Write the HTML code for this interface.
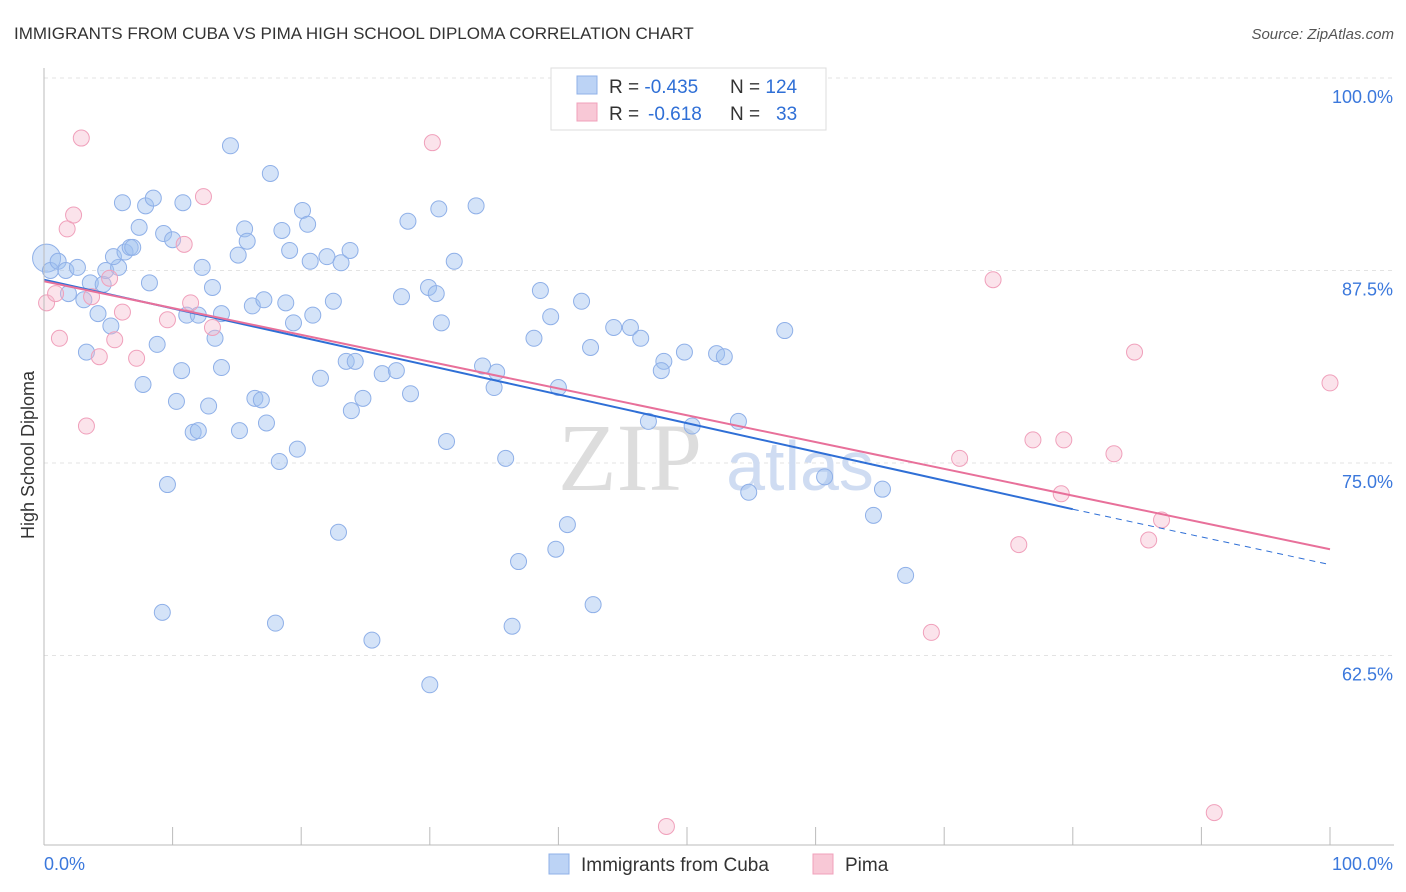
<!DOCTYPE html>
<html><head><meta charset="utf-8">
<style>
body{margin:0;background:#fff;font-family:"Liberation Sans",sans-serif;}
#wrap{position:relative;width:1406px;height:892px;overflow:hidden;}
</style></head>
<body>
<div id="wrap">
<svg id="svg" width="1406" height="892" xmlns="http://www.w3.org/2000/svg">
<text x="14" y="39" font-size="17" fill="#333">IMMIGRANTS FROM CUBA VS PIMA HIGH SCHOOL DIPLOMA CORRELATION CHART</text>
<text x="1394" y="39" font-size="15" fill="#555" font-style="italic" text-anchor="end">Source: ZipAtlas.com</text>
<text transform="translate(34,455) rotate(-90)" font-size="18" fill="#333" text-anchor="middle">High School Diploma</text>
<g id="grid"></g>
<g id="wm">
<text x="630" y="490" font-size="96" fill="#ddd" font-family="Liberation Serif" text-anchor="middle">ZIP</text>
<text x="800" y="490" font-size="70" fill="#cfdcf2" text-anchor="middle">atlas</text>
</g>
<g id="blue"></g>
<g id="pink"></g>
<g id="trend"></g>
<g id="axes"></g>
<g>
<rect x="551" y="68" width="275" height="62" fill="#fff" stroke="#ddd"/>
<rect x="577" y="76" width="20" height="18" fill="#bcd3f5" stroke="#8fb0e8"/>
<rect x="577" y="103" width="20" height="18" fill="#f8c8d6" stroke="#f0a0bb"/>
<text x="609" y="93" font-size="19" fill="#333">R = <tspan fill="#2f6fd6">-0.435</tspan><tspan x="730">N = </tspan><tspan fill="#2f6fd6">124</tspan></text>
<text x="609" y="120" font-size="19" fill="#333">R = <tspan fill="#2f6fd6" x="648">-0.618</tspan><tspan x="730">N = </tspan><tspan fill="#2f6fd6" x="776">33</tspan></text>
</g>
<g>
<rect x="549" y="854" width="20" height="20" fill="#bcd3f5" stroke="#8fb0e8"/>
<text x="581" y="871" font-size="19" fill="#333">Immigrants from Cuba</text>
<rect x="813" y="854" width="20" height="20" fill="#f8c8d6" stroke="#f0a0bb"/>
<text x="845" y="871" font-size="19" fill="#333">Pima</text>
</g>
</svg>
</div>
<script>
const blueX=[0.2,0.5,1.1,1.7,2.6,1.9,3.6,4.6,4.8,5.8,5.4,6.3,6.7,6.9,7.4,6.1,7.9,8.5,10.8,9.3,10.0,8.2,3.1,4.2,5.2,3.3,8.8,7.7,10.7,10.3,11.1,12.0,12.3,13.1,13.3,13.8,13.8,12.8,11.6,12.0,9.6,14.5,15.1,15.6,15.8,16.2,17.1,18.8,19.4,20.9,15.2,16.4,16.9,17.3,17.6,18.5,19.1,20.1,20.5,20.7,22.0,23.1,23.8,22.5,21.5,23.5,24.2,24.8,23.9,26.3,27.4,28.5,19.7,18.3,9.2,18.0,22.9,25.5,30.0,27.8,28.3,30.7,29.9,30.5,30.9,31.9,33.6,31.3,34.1,35.2,35.0,35.9,36.9,36.4,38.6,39.4,38.1,40.0,40.7,39.8,42.7,41.8,42.5,44.3,45.6,46.4,47.0,48.2,48.0,49.8,50.4,52.3,52.9,54.0,54.8,57.6,60.7,65.2,64.5,67.0];
const blueY=[88.3,87.5,88.1,87.5,87.7,86.0,86.7,86.6,87.5,87.7,88.4,88.7,89.0,89.0,90.3,91.9,91.7,92.2,91.9,89.9,89.5,86.7,85.6,84.7,83.9,82.2,82.7,80.1,81.0,79.0,84.6,84.6,87.7,86.4,83.1,84.7,81.2,78.7,77.0,77.1,73.6,95.6,88.5,90.2,89.4,85.2,85.6,85.4,84.1,84.6,77.1,79.2,79.1,77.6,93.8,90.1,88.8,91.4,90.5,88.1,88.4,88.0,88.8,85.5,80.5,81.6,81.6,79.2,78.4,80.8,81.0,79.5,75.9,75.1,65.3,64.6,70.5,63.5,60.6,85.8,90.7,91.5,86.4,86.0,84.1,88.1,91.7,76.4,81.3,80.9,79.9,75.3,68.6,64.4,86.2,84.5,83.1,79.9,71.0,69.4,65.8,85.5,82.5,83.8,83.8,83.1,77.7,81.6,81.0,82.2,77.4,82.1,81.9,77.7,73.1,83.6,74.1,73.3,71.6,67.7];
const pinkX=[0.2,0.9,1.2,1.8,2.3,2.9,3.3,3.7,4.3,5.1,5.5,6.1,7.2,9.6,10.9,11.4,12.4,13.1,30.2,48.4,69.0,71.2,73.8,75.8,76.9,79.3,79.1,83.2,84.8,85.9,86.9,91.0,100.0];
const pinkY=[85.4,86.0,83.1,90.2,91.1,96.1,77.4,85.8,81.9,87.0,83.0,84.8,81.8,84.3,89.2,85.4,92.3,83.8,95.8,51.4,64.0,75.3,86.9,69.7,76.5,76.5,73.0,75.6,82.2,70.0,71.3,52.3,80.2];
const blueTrendX=[0,80,100];
const blueTrendY=[86.9,72.0,68.4];
const pinkTrendX=[0,100];
const pinkTrendY=[86.8,69.4];
const yTicks=[100,87.5,75,62.5];
const yTickLabels=["100.0%","87.5%","75.0%","62.5%"];

const NS="http://www.w3.org/2000/svg";
const sx=v=>44+v*12.86;
const sy=v=>78+(100-v)*15.4;
function mk(tag,attrs,parent){const e=document.createElementNS(NS,tag);for(const k in attrs)e.setAttribute(k,attrs[k]);parent.appendChild(e);return e;}
const grid=document.getElementById('grid');
yTicks.forEach((t,i)=>{
  const l=mk('line',{x1:44,x2:1394,y1:sy(t),y2:sy(t),stroke:'#e3e3e3','stroke-dasharray':'4,4'},grid);
  
  
  const tx=mk('text',{x:1393,y:sy(t)+25,'font-size':18,fill:'#3b78dc','text-anchor':'end'},grid);
  tx.textContent=yTickLabels[i];
  
  
});
const axes=document.getElementById('axes');
mk('line',{x1:44,x2:44,y1:68,y2:845,stroke:'#bbb'},axes);
mk('line',{x1:44,x2:1394,y1:845,y2:845,stroke:'#bbb'},axes);
for(let i=0;i<=10;i++){mk('line',{x1:sx(i*10),x2:sx(i*10),y1:827,y2:845,stroke:'#bbb'},axes);}
const x0=mk('text',{x:44,y:870,'font-size':18,fill:'#3b78dc'},axes);x0.textContent='0.0%';


const x1=mk('text',{x:1393,y:870,'font-size':18,fill:'#3b78dc','text-anchor':'end'},axes);x1.textContent='100.0%';



const bg=document.getElementById('blue');
blueX.forEach((x,i)=>{
  const c=mk('circle',{cx:sx(x),cy:sy(blueY[i]),r:i===0?14:8,fill:'rgba(160,192,240,0.45)',stroke:'#8fb0e8','stroke-width':1},bg);
  
  
});
const pg=document.getElementById('pink');
pinkX.forEach((x,i)=>{
  const c=mk('circle',{cx:sx(x),cy:sy(pinkY[i]),r:8,fill:'rgba(246,185,205,0.4)',stroke:'#f0a0bb','stroke-width':1},pg);
  
  
});
const tg=document.getElementById('trend');
const b1=mk('line',{x1:sx(blueTrendX[0]),y1:sy(blueTrendY[0]),x2:sx(blueTrendX[1]),y2:sy(blueTrendY[1]),stroke:'#2f6fd6','stroke-width':2},tg);


const b2=mk('line',{x1:sx(blueTrendX[1]),y1:sy(blueTrendY[1]),x2:sx(blueTrendX[2]),y2:sy(blueTrendY[2]),stroke:'#2f6fd6','stroke-width':1,'stroke-dasharray':'6,5'},tg);


const p1=mk('line',{x1:sx(pinkTrendX[0]),y1:sy(pinkTrendY[0]),x2:sx(pinkTrendX[1]),y2:sy(pinkTrendY[1]),stroke:'#e8709a','stroke-width':2},tg);


</script>
</body></html>
